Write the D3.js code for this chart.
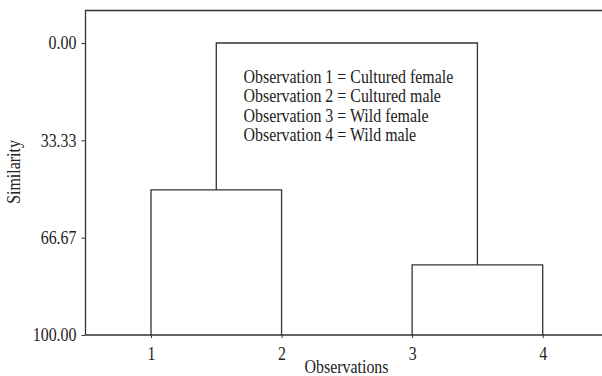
<!DOCTYPE html>
<html><head><meta charset="utf-8">
<script src="https://cdn.jsdelivr.net/npm/d3@7"></script>
<style>
body{margin:0;background:#fff;}
text{font-family:"Liberation Serif","Times New Roman",serif;fill:#222;}
</style></head>
<body><svg id="c" width="602" height="376"></svg>
<script>
// Data
const observations = [1, 2, 3, 4];
const yTicks = [0, 33.33, 66.67, 100];
// merges: children are leaf ids or cluster ids; level = similarity at which they join
const merges = [
  {id: "c1", left: 1, right: 2, level: 50.3},
  {id: "c2", left: 3, right: 4, level: 76.0},
  {id: "c3", left: "c1", right: "c2", level: 0.0}
];
const legendLines = [
  "Observation 1 = Cultured female",
  "Observation 2 = Cultured male",
  "Observation 3 = Wild female",
  "Observation 4 = Wild male"
];

const svg = d3.select("#c");
const frame = {left: 85.5, top: 10.5, right: 602, bottom: 335};
const x = d3.scaleLinear().domain([1, 4]).range([151, 542.7]);
const y = d3.scaleLinear().domain([0, 100]).range([43, 335]);
const stroke = "#333";
const FS = 18, CONDENSE = 0.885;

function condense(sel) {
  sel.each(function() {
    const w = this.getComputedTextLength();
    d3.select(this).attr("textLength", w * CONDENSE).attr("lengthAdjust", "spacingAndGlyphs");
  });
}

// frame top and left
svg.append("path")
  .attr("d", `M${frame.left},${frame.bottom}V${frame.top}H${frame.right}`)
  .attr("fill", "none").attr("stroke", stroke).attr("stroke-width", 1.3);

// y axis
const yAxis = svg.append("g").attr("transform", `translate(${frame.left},0)`)
  .call(d3.axisLeft(y).tickValues(yTicks).tickFormat(d3.format(".2f")).tickSize(4).tickPadding(5));
yAxis.select(".domain").remove();
yAxis.selectAll("line").attr("stroke", stroke);
yAxis.selectAll("text").attr("font-size", FS).attr("font-family", null).attr("fill", "#222").call(condense);

// x axis
const xAxis = svg.append("g").attr("transform", `translate(0,${frame.bottom})`)
  .call(d3.axisBottom(x).tickValues(observations).tickFormat(d3.format("d")).tickSize(3).tickPadding(9).tickSizeOuter(0));
xAxis.select(".domain").attr("d", `M${frame.left},0H${frame.right}`).attr("stroke", stroke).attr("stroke-width", 1.3);
xAxis.selectAll("line").attr("stroke", stroke);
xAxis.selectAll("text").attr("font-size", FS).attr("font-family", null).attr("fill", "#222").call(condense);

// dendrogram
const pos = {};
observations.forEach(o => pos[o] = {x: x(o), level: 100});
merges.forEach(m => {
  const L = pos[m.left], R = pos[m.right];
  const yl = y(m.level);
  svg.append("path")
    .attr("d", `M${L.x},${y(L.level)}V${yl}H${R.x}V${y(R.level)}`)
    .attr("fill", "none").attr("stroke", stroke).attr("stroke-width", 1.3);
  pos[m.id] = {x: (L.x + R.x) / 2, level: m.level};
});

// legend text
svg.append("g").selectAll("text").data(legendLines).join("text")
  .attr("x", 243.5).attr("y", (d, i) => 82.5 + i * 19.6)
  .attr("font-size", FS).text(d => d).call(condense);

// axis titles
svg.append("text").attr("x", 346.5).attr("y", 373).attr("text-anchor", "middle")
  .attr("font-size", FS).text("Observations").call(condense);
svg.append("text").attr("transform", "translate(20,172) rotate(-90)").attr("text-anchor", "middle")
  .attr("font-size", FS).text("Similarity").call(condense);
</script></body></html>
